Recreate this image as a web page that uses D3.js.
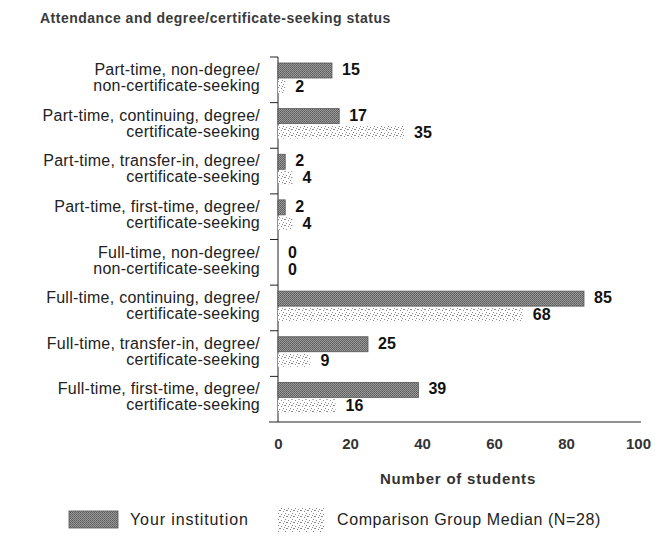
<!DOCTYPE html>
<html>
<head>
<meta charset="utf-8">
<script src="https://cdn.jsdelivr.net/npm/d3@7"></script>
<style>
  body { margin: 0; background: #fff; }
  text { font-family: "Liberation Sans", Arial, sans-serif; }
</style>
</head>
<body>
<div id="chart-area"></div>
<script>
// data
var categories = [
    ["Part-time, non-degree/", "non-certificate-seeking"],
    ["Part-time, continuing, degree/", "certificate-seeking"],
    ["Part-time, transfer-in, degree/", "certificate-seeking"],
    ["Part-time, first-time, degree/", "certificate-seeking"],
    ["Full-time, non-degree/", "non-certificate-seeking"],
    ["Full-time, continuing, degree/", "certificate-seeking"],
    ["Full-time, transfer-in, degree/", "certificate-seeking"],
    ["Full-time, first-time, degree/", "certificate-seeking"]
];
var institution = [15, 17, 2, 2, 0, 85, 25, 39];
var comparison = [2, 35, 4, 4, 0, 68, 9, 16];
var xTicks = [0, 20, 40, 60, 80, 100];
var seriesNames = ["Your institution", "Comparison Group Median (N=28)"];

var margin = {top: 57, left: 278};
var width = 360;
var height = 365;

var svg = d3.select("#chart-area")
    .append("svg")
    .attr("width", 663)
    .attr("height", 537);

// patterns
var defs = svg.append("defs");
var p1 = defs.append("pattern").attr("id", "inst")
    .attr("width", 2).attr("height", 2).attr("patternUnits", "userSpaceOnUse");
p1.append("rect").attr("width", 2).attr("height", 2).attr("fill", "#9a9a9a");
p1.append("rect").attr("width", 1).attr("height", 1).attr("fill", "#5a5a5a");
p1.append("rect").attr("x", 1).attr("y", 1).attr("width", 1).attr("height", 1).attr("fill", "#6a6a6a");

var p2 = defs.append("pattern").attr("id", "comp")
    .attr("width", 7).attr("height", 6).attr("patternUnits", "userSpaceOnUse");
p2.append("rect").attr("width", 7).attr("height", 6).attr("fill", "#fff");
[[0, 0], [3, 1], [5, 3], [1, 4], [4, 5], [6, 0]].forEach(function(d) {
    p2.append("rect").attr("x", d[0]).attr("y", d[1]).attr("width", 1).attr("height", 1).attr("fill", "#8a8a8a");
});

// title
svg.append("text")
    .attr("x", 40).attr("y", 23)
    .attr("font-size", "14px")
    .attr("font-weight", "bold")
    .attr("letter-spacing", "0.5px")
    .attr("fill", "#3a3a3a")
    .text("Attendance and degree/certificate-seeking status");

var g = svg.append("g")
    .attr("transform", "translate(" + margin.left + "," + margin.top + ")");

var x = d3.scaleLinear().domain([0, 100]).range([0, width]);
var y = d3.scaleBand().domain(d3.range(categories.length)).range([0, height]);

// y axis line + ticks at group tops
g.append("line").attr("x1", 0).attr("x2", 0).attr("y1", 0).attr("y2", height)
    .attr("stroke", "#222");
g.selectAll(".ytick").data(d3.range(categories.length)).enter().append("line")
    .attr("class", "ytick")
    .attr("x1", -8).attr("x2", 0)
    .attr("y1", function(d) { return y(d); })
    .attr("y2", function(d) { return y(d); })
    .attr("stroke", "#222");

// x axis
var xAxis = g.append("g").attr("transform", "translate(0," + height + ")")
    .call(d3.axisBottom(x).tickValues(xTicks).tickSize(0).tickPadding(16));
xAxis.select(".domain").attr("stroke", "#222").attr("d", "M-9,0H" + (width + 3));
xAxis.selectAll("text")
    .attr("font-family", "Liberation Sans, Arial, sans-serif")
    .attr("font-size", "15px")
    .attr("font-weight", "bold")
    .attr("fill", "#333");

// category labels
var labels = g.selectAll(".cat").data(categories).enter().append("text")
    .attr("class", "cat")
    .attr("text-anchor", "end")
    .attr("font-size", "16px")
    .attr("letter-spacing", "0.25px")
    .attr("fill", "#222")
    .attr("transform", function(d, i) { return "translate(-18," + y(i) + ")"; });
labels.append("tspan").attr("x", 0).attr("y", 18).text(function(d) { return d[0]; });
labels.append("tspan").attr("x", 0).attr("y", 34).text(function(d) { return d[1]; });

// bars
g.selectAll(".bar-inst").data(institution).enter().append("rect")
    .attr("class", "bar-inst")
    .attr("x", x(0))
    .attr("y", function(d, i) { return y(i) + 6; })
    .attr("width", function(d) { return x(d) - x(0); })
    .attr("height", 15)
    .attr("fill", "url(#inst)")
    .attr("stroke", function(d) { return d > 0 ? "#555" : "none"; })
    .attr("stroke-width", 0.8);

g.selectAll(".bar-comp").data(comparison).enter().append("rect")
    .attr("class", "bar-comp")
    .attr("x", x(0))
    .attr("y", function(d, i) { return y(i) + 23; })
    .attr("width", function(d) { return x(d) - x(0); })
    .attr("height", 13)
    .attr("fill", "url(#comp)");

// value labels
g.selectAll(".lab-inst").data(institution).enter().append("text")
    .attr("class", "lab-inst")
    .attr("x", function(d) { return x(d) + 10; })
    .attr("y", function(d, i) { return y(i) + 18; })
    .attr("font-size", "16px")
    .attr("font-weight", "bold")
    .attr("fill", "#111")
    .text(function(d) { return d; });

g.selectAll(".lab-comp").data(comparison).enter().append("text")
    .attr("class", "lab-comp")
    .attr("x", function(d) { return x(d) + 10; })
    .attr("y", function(d, i) { return y(i) + 35; })
    .attr("font-size", "16px")
    .attr("font-weight", "bold")
    .attr("fill", "#111")
    .text(function(d) { return d; });

// axis title
svg.append("text")
    .attr("x", 458).attr("y", 484)
    .attr("text-anchor", "middle")
    .attr("font-size", "15px")
    .attr("font-weight", "bold")
    .attr("letter-spacing", "0.8px")
    .attr("fill", "#333")
    .text("Number of students");

// legend
var legend = svg.append("g");
legend.append("rect").attr("x", 69).attr("y", 511).attr("width", 49).attr("height", 17)
    .attr("fill", "url(#inst)").attr("stroke", "#555").attr("stroke-width", 0.8);
legend.append("text").attr("x", 130).attr("y", 525)
    .attr("font-size", "16px").attr("letter-spacing", "0.9px").attr("fill", "#222").text(seriesNames[0]);
legend.append("rect").attr("x", 278).attr("y", 508).attr("width", 46).attr("height", 24)
    .attr("fill", "url(#comp)");
legend.append("text").attr("x", 337).attr("y", 525)
    .attr("font-size", "16px").attr("letter-spacing", "0.6px").attr("fill", "#222").text(seriesNames[1]);
</script>
</body>
</html>
